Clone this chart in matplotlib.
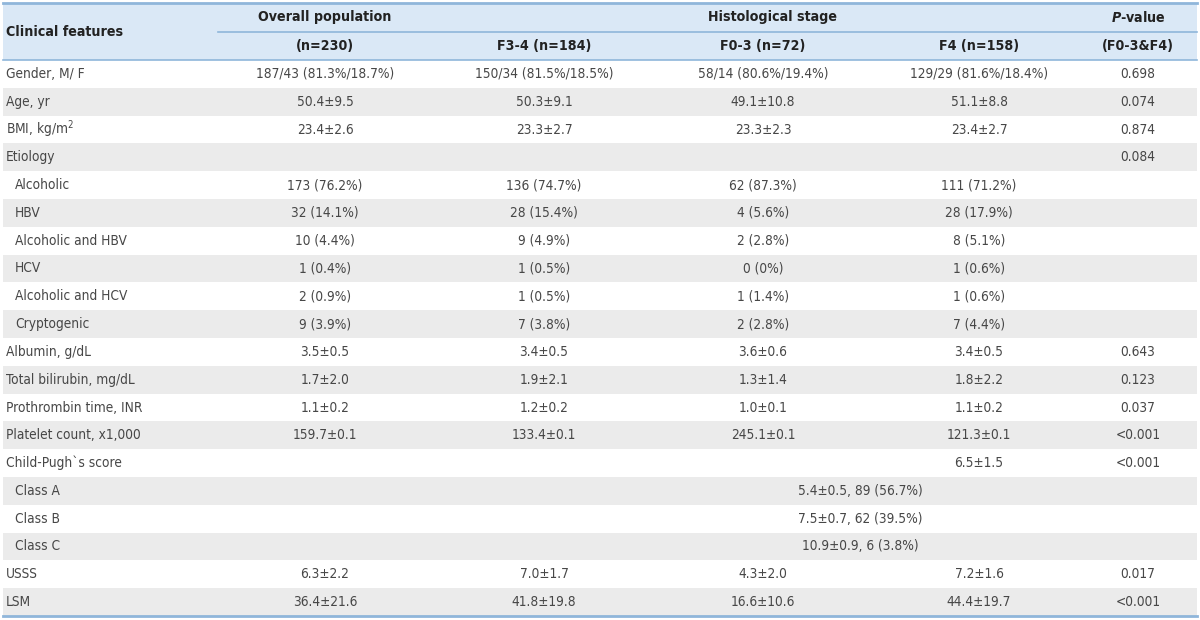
import matplotlib.pyplot as plt
from matplotlib.patches import Rectangle

plt.rcParams['font.family'] = ['DejaVu Sans']
plt.rcParams['font.stretch'] = 'condensed'

# table content
features = ["Gender, M/ F", "Age, yr", "BMI, kg/m$^2$", "Etiology",
            "Alcoholic", "HBV", "Alcoholic and HBV", "HCV", "Alcoholic and HCV",
            "Cryptogenic", "Albumin, g/dL", "Total bilirubin, mg/dL",
            "Prothrombin time, INR", "Platelet count, x1,000", "Child-Pugh`s score",
            "Class A", "Class B", "Class C", "USSS", "LSM"]
indented = [False, False, False, False, True, True, True, True, True, True,
            False, False, False, False, False, True, True, True, False, False]
overall = ["187/43 (81.3%/18.7%)", "50.4±9.5", "23.4±2.6", "",
           "173 (76.2%)", "32 (14.1%)", "10 (4.4%)", "1 (0.4%)", "2 (0.9%)", "9 (3.9%)",
           "3.5±0.5", "1.7±2.0", "1.1±0.2", "159.7±0.1", "", "", "", "", "6.3±2.2", "36.4±21.6"]
f34 = ["150/34 (81.5%/18.5%)", "50.3±9.1", "23.3±2.7", "",
       "136 (74.7%)", "28 (15.4%)", "9 (4.9%)", "1 (0.5%)", "1 (0.5%)", "7 (3.8%)",
       "3.4±0.5", "1.9±2.1", "1.2±0.2", "133.4±0.1", "", "", "", "", "7.0±1.7", "41.8±19.8"]
f03 = ["58/14 (80.6%/19.4%)", "49.1±10.8", "23.3±2.3", "",
       "62 (87.3%)", "4 (5.6%)", "2 (2.8%)", "0 (0%)", "1 (1.4%)", "2 (2.8%)",
       "3.6±0.6", "1.3±1.4", "1.0±0.1", "245.1±0.1", "", "", "", "", "4.3±2.0", "16.6±10.6"]
f4 = ["129/29 (81.6%/18.4%)", "51.1±8.8", "23.4±2.7", "",
      "111 (71.2%)", "28 (17.9%)", "8 (5.1%)", "1 (0.6%)", "1 (0.6%)", "7 (4.4%)",
      "3.4±0.5", "1.8±2.2", "1.1±0.2", "121.3±0.1", "6.5±1.5", "", "", "", "7.2±1.6", "44.4±19.7"]
pvals = ["0.698", "0.074", "0.874", "0.084", "", "", "", "", "", "",
         "0.643", "0.123", "0.037", "<0.001", "<0.001", "", "", "", "0.017", "<0.001"]
# merged cells for Child-Pugh classes
merged = {15: "5.4±0.5, 89 (56.7%)", 16: "7.5±0.7, 62 (39.5%)", 17: "10.9±0.9, 6 (3.8%)"}

fig = plt.figure(figsize=(12, 6.2), dpi=100)
ax = fig.add_axes([0, 0, 1, 1])
ax.set_xlim(0, 1200)
ax.set_ylim(620, 0)
ax.axis('off')

left, right = 3, 1197
top, mid, hbot = 3, 32, 60
rh = (616 - hbot) / len(features)
col_x = [325, 544, 763, 979, 1138]
line_c = '#8fb6da'
txt_c = '#474747'

ax.add_patch(Rectangle((left, top), right - left, hbot - top, color='#dae8f6', lw=0))
for i in range(len(features)):
    if i % 2 == 1:
        ax.add_patch(Rectangle((left, hbot + i * rh), right - left, rh, color='#ebebeb', lw=0))

ax.plot([left, right], [top, top], color=line_c, lw=2)
ax.plot([218, right], [mid, mid], color=line_c, lw=1.2)
ax.plot([left, right], [hbot, hbot], color=line_c, lw=1.2)
ax.plot([left, right], [616, 616], color=line_c, lw=2)

hkw = dict(fontsize=10.2, fontweight='bold', color='#222222', va='center', ha='center')
ax.text(6, (top + hbot) / 2 + 1, "Clinical features", **dict(hkw, ha='left'))
ax.text(col_x[0], (top + mid) / 2, "Overall population", **hkw)
ax.text(772, (top + mid) / 2, "Histological stage", **hkw)
ax.text(col_x[4], (top + mid) / 2, "$\\bfit{P}$-value", **hkw)
ax.text(col_x[0], (mid + hbot) / 2, "(n=230)", **hkw)
ax.text(col_x[1], (mid + hbot) / 2, "F3-4 (n=184)", **hkw)
ax.text(col_x[2], (mid + hbot) / 2, "F0-3 (n=72)", **hkw)
ax.text(col_x[3], (mid + hbot) / 2, "F4 (n=158)", **hkw)
ax.text(col_x[4], (mid + hbot) / 2, "(F0-3&F4)", **hkw)

bkw = dict(fontsize=9.8, color=txt_c, va='center')
for i, name in enumerate(features):
    y = hbot + (i + 0.5) * rh
    ax.text(15 if indented[i] else 6, y, name, ha='left', **bkw)
    for x, col in zip(col_x, [overall, f34, f03, f4, pvals]):
        if col[i]:
            ax.text(x, y, col[i], ha='center', **bkw)
    if i in merged:
        ax.text(860, y, merged[i], ha='center', **bkw)

fig.savefig('out.png', dpi=100)
